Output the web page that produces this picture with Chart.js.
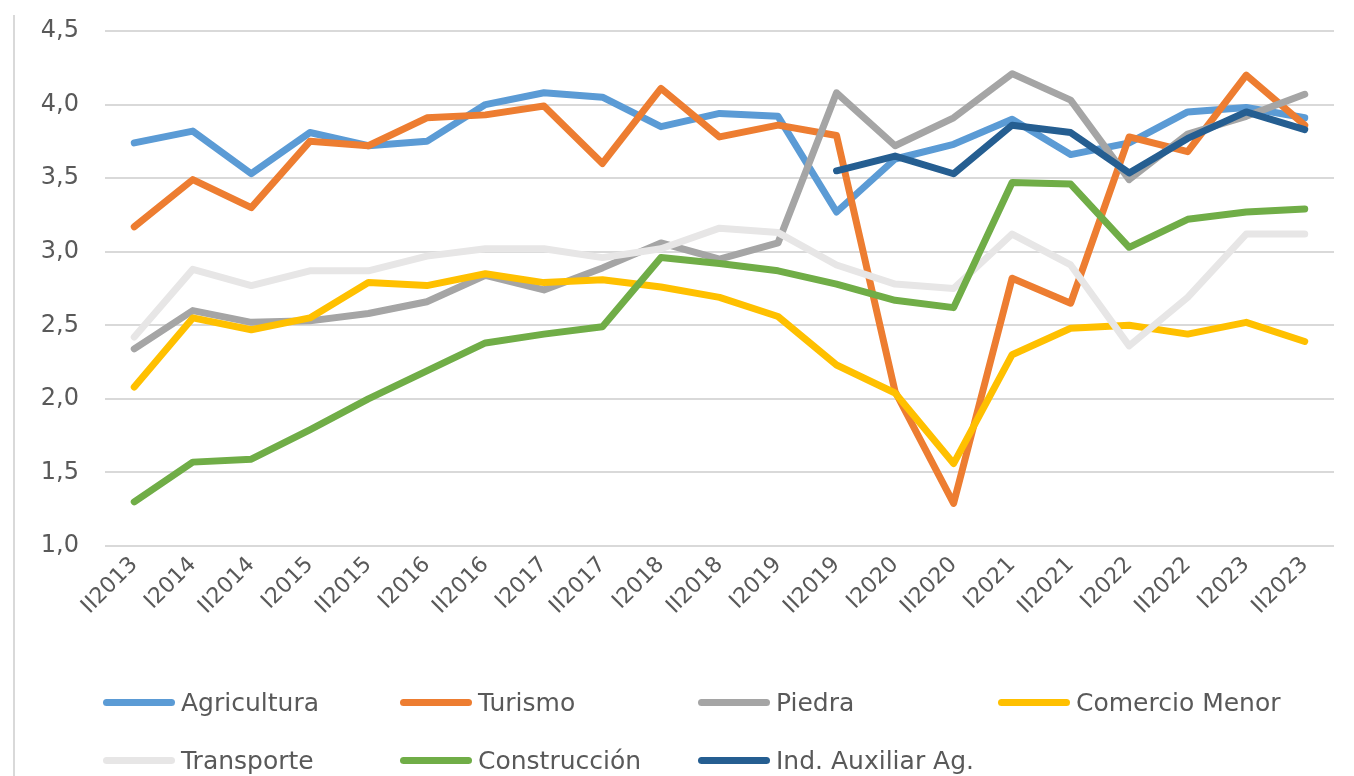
<!DOCTYPE html>
<html>
<head>
<meta charset="utf-8">
<script src="https://cdn.jsdelivr.net/npm/chart.js@4"></script>
<style>
  html, body { margin: 0; padding: 0; background: #ffffff; }
  #wrap { position: relative; width: 1354px; height: 776px; overflow: hidden; }
  #border { position: absolute; left: 13px; top: 15px; width: 0; height: 770px; border-left: 2px solid #d9d9d9; }
  canvas { position: absolute; left: 0; top: 0; }
  #legend { position: absolute; left: 0; top: 0; width: 1354px; height: 776px; pointer-events: none;
    font-family: "DejaVu Sans", sans-serif; font-size: 25px; color: #595959; }
  .item { position: absolute; display: flex; align-items: center; white-space: nowrap; }
  .swatch { width: 72px; height: 7px; border-radius: 4px; margin-right: 6px; }
</style>
</head>
<body>
<div id="wrap">
  <div id="border"></div>
  <canvas id="chart" width="1354" height="776"></canvas>
  <div id="legend"></div>
</div>
<script>
const categories = ['II2013','I2014','II2014','I2015','II2015','I2016','II2016','I2017','II2017','I2018','II2018','I2019','II2019','I2020','II2020','I2021','II2021','I2022','II2022','I2023','II2023'];

const agricultura  = [3.74,3.82,3.53,3.81,3.72,3.75,4.00,4.08,4.05,3.85,3.94,3.92,3.27,3.63,3.73,3.90,3.66,3.74,3.95,3.98,3.91];
const turismo      = [3.17,3.49,3.30,3.75,3.72,3.91,3.93,3.99,3.60,4.11,3.78,3.86,3.79,2.05,1.29,2.82,2.65,3.78,3.68,4.20,3.86];
const piedra       = [2.34,2.60,2.52,2.53,2.58,2.66,2.84,2.74,2.89,3.06,2.95,3.06,4.08,3.72,3.91,4.21,4.03,3.49,3.80,3.92,4.07];
const comercio     = [2.08,2.55,2.47,2.55,2.79,2.77,2.85,2.79,2.81,2.76,2.69,2.56,2.23,2.04,1.56,2.30,2.48,2.50,2.44,2.52,2.39];
const transporte   = [2.42,2.88,2.77,2.87,2.87,2.97,3.02,3.02,2.96,3.02,3.16,3.13,2.91,2.78,2.75,3.12,2.91,2.36,2.69,3.12,3.12];
const construccion = [1.30,1.57,1.59,1.79,2.00,2.19,2.38,2.44,2.49,2.96,2.92,2.87,2.78,2.67,2.62,3.47,3.46,3.03,3.22,3.27,3.29];
const indAuxiliar  = [null,null,null,null,null,null,null,null,null,null,null,null,3.55,3.65,3.53,3.86,3.81,3.535,3.77,3.95,3.83];

const seriesNames = ['Agricultura','Turismo','Piedra','Comercio Menor','Transporte','Construcción','Ind. Auxiliar Ag.'];
const seriesData = [agricultura, turismo, piedra, comercio, transporte, construccion, indAuxiliar];
const seriesColors = ['#5B9BD5','#ED7D31','#A5A5A5','#FFC000','#E7E6E6','#70AD47','#255E91'];

const yTicks = [1.0, 1.5, 2.0, 2.5, 3.0, 3.5, 4.0, 4.5];

const n = seriesNames.length;
const datasets = seriesNames.map((name, i) => ({
  label: name,
  data: seriesData[i],
  borderColor: seriesColors[i],
  backgroundColor: seriesColors[i],
  borderWidth: 7,
  pointRadius: 0,
  pointHoverRadius: 0,
  tension: 0,
  fill: false,
  spanGaps: false,
  borderJoinStyle: 'round',
  borderCapStyle: 'round',
  order: n - 1 - i
}));

const chart = new Chart(document.getElementById('chart'), {
  type: 'line',
  data: { labels: categories, datasets: datasets },
  options: {
    responsive: false,
    animation: false,
    devicePixelRatio: 1,
    layout: { padding: { left: 0, right: 20, top: 31, bottom: 0 } },
    plugins: { legend: { display: false }, tooltip: { enabled: false } },
    scales: {
      x: {
        offset: true,
        grid: { display: false, drawTicks: false },
        border: { display: false },
        ticks: {
          minRotation: 45, maxRotation: 45, autoSkip: false, padding: 6,
          color: '#595959', font: { family: 'DejaVu Sans', size: 22 }
        },
        afterFit: (s) => { s.height = 776 - 546; s.paddingTop = 0; s.paddingBottom = 0; }
      },
      y: {
        min: 1, max: 4.5,
        afterBuildTicks: (s) => { s.ticks = yTicks.map(v => ({ value: v })); },
        grid: { color: '#d9d9d9', lineWidth: 2, drawTicks: false },
        border: { display: false },
        ticks: {
          padding: 26, color: '#595959', font: { family: 'DejaVu Sans', size: 24 },
          callback: (v) => Number(v).toFixed(1).replace('.', ',')
        },
        afterFit: (s) => { s.width = 105; s.paddingTop = 0; s.paddingBottom = 0; }
      }
    }
  }
});

// HTML legend built from the chart's datasets, laid out in a 4-column grid
const legend = document.getElementById('legend');
const colX = [103, 400, 698, 998];
const rowY = [702, 760];
chart.data.datasets.forEach((ds, i) => {
  const item = document.createElement('div');
  item.className = 'item';
  item.style.left = colX[i % 4] + 'px';
  item.style.top = (rowY[Math.floor(i / 4)] - 16) + 'px';
  item.style.height = '32px';
  const sw = document.createElement('div');
  sw.className = 'swatch';
  sw.style.background = ds.borderColor;
  const tx = document.createElement('span');
  tx.textContent = ds.label;
  item.appendChild(sw);
  item.appendChild(tx);
  legend.appendChild(item);
});
</script>
</body>
</html>
